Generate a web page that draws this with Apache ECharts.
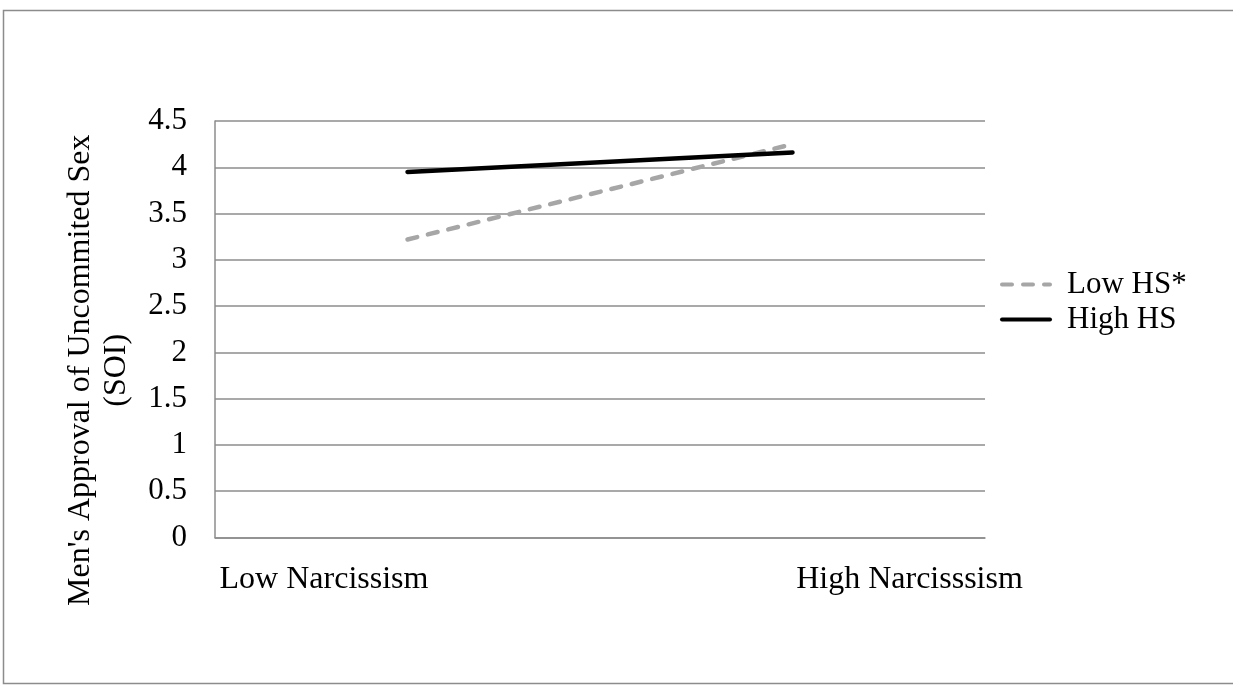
<!DOCTYPE html>
<html>
<head>
<meta charset="utf-8">
<script src="https://cdn.jsdelivr.net/npm/echarts@6/dist/echarts.min.js"></script>
<style>
html,body{margin:0;padding:0;background:#fff;}
#c{width:1233px;height:687px;}
</style>
</head>
<body>
<div id="c"></div>
<script>
var categories = ['Low Narcissism', 'High Narcisssism'];
var lowHS = [3.22, 4.25];
var highHS = [3.95, 4.16];
var seriesNames = ['Low HS*', 'High HS'];
var yTitle = "Men's Approval of Uncommited Sex\n(SOI)";

var FONT = '"Liberation Serif", "Times New Roman", serif';
var chart = echarts.init(document.getElementById('c'), null, {renderer: 'canvas'});
chart.setOption({
  animation: false,
  backgroundColor: '#fff',
  textStyle: {fontFamily: FONT, color: '#000'},
  graphic: [{
    type: 'rect',
    shape: {x: 3.5, y: 10.5, width: 1240, height: 673},
    style: {fill: 'none', stroke: '#8c8c8c', lineWidth: 1.5},
    silent: true
  }],
  grid: {left: 215, right: 248, top: 121, bottom: 149.5, containLabel: false},
  legend: {
    orient: 'vertical',
    left: 1000,
    top: 269,
    padding: 0,
    itemWidth: 48,
    itemHeight: 14,
    itemGap: 4,
    itemStyle: {opacity: 0},
    lineStyle: {width: 4},
    textStyle: {fontFamily: FONT, fontSize: 31, color: '#000', padding: [0, 0, 0, 12], lineHeight: 31},
    data: seriesNames
  },
  xAxis: {
    type: 'category',
    data: categories,
    boundaryGap: true,
    axisLine: {show: true, lineStyle: {color: '#8c8c8c', width: 1.5}},
    axisTick: {show: false},
    axisLabel: {
      interval: 0,
      margin: 26,
      fontFamily: FONT,
      fontSize: 32,
      color: '#000',
      formatter: function (v, i) { return i === 0 ? '{a|' + v + '}' : '{b|' + v + '}'; },
      rich: {
        a: {fontFamily: FONT, fontSize: 32, color: '#000', padding: [0, 167, 0, 0]},
        b: {fontFamily: FONT, fontSize: 32, color: '#000', padding: [0, 0, 0, 234]}
      }
    }
  },
  yAxis: {
    type: 'value',
    min: 0,
    max: 4.5,
    interval: 0.5,
    name: yTitle,
    nameLocation: 'middle',
    nameGap: 80,
    nameRotate: 90,
    nameTextStyle: {fontFamily: FONT, fontSize: 32, color: '#000', lineHeight: 36, padding: [0, 82, 0, 0]},
    axisLine: {show: true, lineStyle: {color: '#8c8c8c', width: 1.5}},
    axisTick: {show: false},
    splitLine: {show: true, lineStyle: {color: '#8c8c8c', width: 1.5}},
    axisLabel: {
      margin: 28,
      fontFamily: FONT,
      fontSize: 31,
      color: '#000',
      formatter: function (v) { return String(v); }
    }
  },
  series: [
    {
      name: seriesNames[0],
      type: 'line',
      data: lowHS,
      symbol: 'none',
      lineStyle: {color: '#a6a6a6', width: 4.5, type: [10, 11], cap: 'round'},
      itemStyle: {color: '#a6a6a6'},
      z: 2
    },
    {
      name: seriesNames[1],
      type: 'line',
      data: highHS,
      symbol: 'none',
      lineStyle: {color: '#000', width: 4.5, cap: 'round'},
      itemStyle: {color: '#000'},
      z: 3
    }
  ]
});
</script>
</body>
</html>
